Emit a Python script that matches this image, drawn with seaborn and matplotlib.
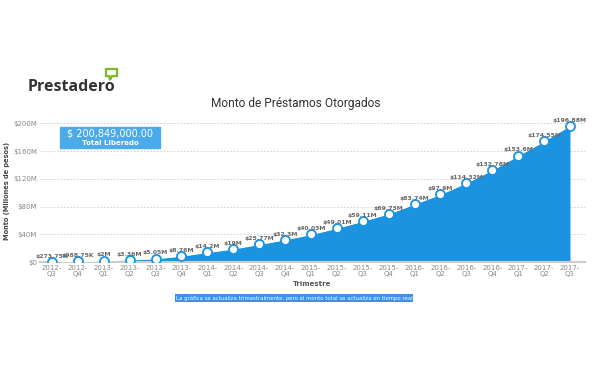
import numpy as np
import pandas as pd
import matplotlib.pyplot as plt
import matplotlib.patches as mpatches
import seaborn as sns

# Datos: monto acumulado por trimestre (millones de pesos)
trimestres = ['2012-\nQ3', '2012-\nQ4', '2013-\nQ1', '2013-\nQ2', '2013-\nQ3', '2013-\nQ4',
              '2014-\nQ1', '2014-\nQ2', '2014-\nQ3', '2014-\nQ4', '2015-\nQ1', '2015-\nQ2',
              '2015-\nQ3', '2015-\nQ4', '2016-\nQ1', '2016-\nQ2', '2016-\nQ3', '2016-\nQ4',
              '2017-\nQ1', '2017-\nQ2', '2017-\nQ3']
montos = [0.27375, 0.98875, 2.0, 3.36, 5.05, 8.76, 14.2, 19.0, 25.77, 32.3, 40.03, 49.01,
          59.11, 69.73, 83.74, 97.9, 114.32, 132.76, 153.6, 174.55, 196.88]
etiquetas = ['$273.75K', '$988.75K', '$2M', '$3.36M', '$5.05M', '$8.76M', '$14.2M', '$19M',
             '$25.77M', '$32.3M', '$40.03M', '$49.01M', '$59.11M', '$69.73M', '$83.74M',
             '$97.9M', '$114.32M', '$132.76M', '$153.6M', '$174.55M', '$196.88M']
y_ticks = [0, 40, 80, 120, 160, 200]
y_tick_labels = ['$0', '$40M', '$80M', '$120M', '$160M', '$200M']
total_liberado = '$ 200,849,000.00'

df = pd.DataFrame({'idx': np.arange(len(montos)), 'monto': montos})

sns.set_style('white')
plt.rcParams['font.family'] = ['DejaVu Sans']

azul = '#1b93e1'
fig = plt.figure(figsize=(5.92, 3.70), dpi=100)
ax = fig.add_axes([40/592, 108/370, 545/592, 142/370])

ax.fill_between(df['idx'], 0, df['monto'], color=azul, lw=0, zorder=2)
sns.lineplot(data=df, x='idx', y='monto', ax=ax, color='white', lw=1.2, zorder=3,
             marker='o', markersize=6.5, markerfacecolor='white',
             markeredgecolor=azul, markeredgewidth=1.3)

for i, (v, t) in enumerate(zip(montos, etiquetas)):
    ax.text(i, v + 4.5, t, ha='center', va='bottom', fontsize=4.4, fontweight='bold',
            color='#666666', zorder=4)

ax.set_xlim(-0.46, 20.58)
ax.set_ylim(0, 205)
ax.set_yticks(y_ticks)
ax.set_yticklabels(y_tick_labels, fontsize=5, color='#888888')
ax.set_xticks(df['idx'])
ax.set_xticklabels(trimestres, fontsize=5, color='#888888', linespacing=1.1)
ax.tick_params(axis='both', length=0, pad=2)
ax.grid(axis='y', ls=(0, (2, 2)), color='#cccccc', lw=0.6, zorder=0)
for s in ['top', 'right', 'left']:
    ax.spines[s].set_visible(False)
ax.spines['bottom'].set_color('#cccccc')
ax.spines['bottom'].set_linewidth(1.5)
ax.set_xlabel('Trimestre', fontsize=5, fontweight='bold', color='#555555', labelpad=3)
ax.set_ylabel('Monto (Millones de pesos)', fontsize=4.8, fontweight='bold',
              color='#444444', labelpad=2)

# Cuadro de total liberado
fig.patches.append(mpatches.Rectangle((60/592, 222/370), 100/592, 21/370,
                                      transform=fig.transFigure, color='#4aaaea',
                                      zorder=5))
fig.text(110/592, 236/370, total_liberado, ha='center', va='center', fontsize=7,
         color='white', zorder=6)
fig.text(110/592, 227/370, 'Total Liberado', ha='center', va='center', fontsize=5,
         fontweight='bold', color='white', zorder=6)

# Titulo y logo
fig.text(296/592, 267/370, 'Monto de Préstamos Otorgados', ha='center', va='center',
         fontsize=8.6, color='#333333', family='Roboto')
fig.text(28/592, 283/370, 'Prestadero', ha='left', va='center', fontsize=11.5,
         fontweight='bold', color='#333333', family='Open Sans')
logo = [(106, 301), (117, 301), (117, 294), (112, 294), (110, 290), (109, 294), (106, 294)]
fig.patches.append(mpatches.Polygon([(x/592, y/370) for x, y in logo], closed=True,
                                    transform=fig.transFigure, fill=False,
                                    edgecolor='#7ab929', lw=1.6))

# Nota inferior
fig.text(294/592, 72/370,
         'La gráfica se actualiza trimestralmente, pero el monto total se actualiza en tiempo real',
         ha='center', va='center', fontsize=3.9, color='white',
         bbox=dict(boxstyle='square,pad=0.2', facecolor='#3d8fe8', edgecolor='none'))

fig.savefig('out.png', dpi=100)
